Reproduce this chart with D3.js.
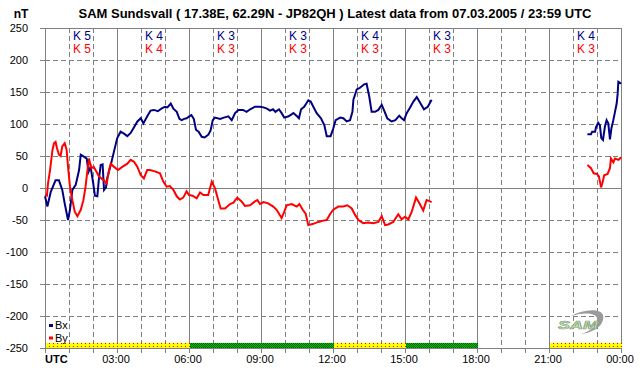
<!DOCTYPE html>
<html>
<head>
<meta charset="utf-8">
<script src="https://cdn.jsdelivr.net/npm/d3@7"></script>
<style>
  body { margin: 0; background: #fff; }
  svg { display: block; font-family: "Liberation Sans", Arial, sans-serif; }
</style>
</head>
<body>
<div id="container-chart"></div>
<script>

// ---- data (hours UTC, nT) ----
var bxHours = [0.0,0.1,0.24,0.44,0.58,0.72,0.82,0.89,0.96,1.04,1.14,1.28,1.42,1.49,1.62,1.74,1.81,1.9,2.01,2.08,2.18,2.24,2.32,2.4,2.46,2.54,2.6,2.74,2.88,3.01,3.15,3.29,3.43,3.57,3.71,3.85,3.99,4.1,4.26,4.4,4.54,4.7,4.85,5.0,5.1,5.24,5.35,5.49,5.6,5.69,5.8,5.9,6.01,6.1,6.2,6.29,6.4,6.53,6.65,6.8,6.9,6.99,7.08,7.3,7.45,7.64,7.78,7.92,8.06,8.25,8.4,8.55,8.75,8.96,9.1,9.25,9.375,9.5,9.6,9.75,9.86,9.97,10.15,10.35,10.5,10.58,10.67,10.8,10.97,11.07,11.18,11.32,11.5,11.64,11.74,11.9,12.01,12.11,12.3,12.43,12.57,12.71,12.81,12.85,12.99,13.1,13.3,13.4,13.51,13.61,13.75,13.89,14.03,14.12,14.26,14.44,14.6,14.76,14.86,14.96,15.07,15.2,15.35,15.49,15.6,15.79,15.95,16.11,
  null,
  22.6,22.75,22.8,22.92,22.96,23.05,23.12,23.18,23.25,23.33,23.4,23.47,23.54,23.6,23.68,23.75,23.82,23.86,23.89,24.0];
var bxValues = [-13,-29,-6,12,12,-3,-24,-37,-50,-34,-3,5,28,52,49,46,25,33,7,-12,-13,12,36,37,-3,1,17,36,58,78,88,85,81,86,95,104,109,101,112,121,122,120,124,127,126,132,124,119,108,106,108,109,112,114,108,91,88,80,79,83,90,106,110,108,110,112,106,117,122,122,119,123,127,127,126,124,121,123,119,123,117,110,112,117,112,109,123,127,137,135,127,117,109,98,81,81,93,106,110,109,104,106,119,138,154,156,162,163,143,119,119,122,130,122,109,104,106,113,109,106,117,125,135,142,135,123,127,138,
  null,
  84,84,88,88,95,102,98,78,75,96,106,101,76,93,106,119,132,147,166,163];

var byHours = [0.0,0.08,0.125,0.21,0.31,0.375,0.44,0.5,0.58,0.65,0.72,0.82,0.9,0.96,1.04,1.14,1.24,1.35,1.49,1.6,1.69,1.76,1.83,1.93,2.03,2.15,2.25,2.35,2.46,2.57,2.67,2.74,2.88,3.04,3.22,3.43,3.57,3.71,3.85,3.99,4.12,4.26,4.375,4.58,4.79,4.93,5.07,5.2,5.35,5.49,5.62,5.76,5.9,6.0,6.15,6.32,6.46,6.6,6.8,6.95,7.08,7.22,7.32,7.5,7.71,7.85,8.01,8.19,8.33,8.54,8.75,8.85,8.96,9.1,9.3,9.51,9.65,9.86,9.97,10.07,10.28,10.49,10.6,10.74,10.86,10.97,11.18,11.39,11.6,11.74,11.875,12.01,12.22,12.43,12.6,12.78,12.92,13.06,13.26,13.47,13.68,13.89,14.03,14.17,14.3,14.51,14.72,14.86,15.0,15.14,15.28,15.46,15.6,15.76,15.9,16.04,16.11,
  null,
  22.6,22.75,22.86,23.0,23.08,23.17,23.22,23.3,23.44,23.54,23.58,23.68,23.75,23.9,24.0];
var byValues = [-11,-12,7,28,59,70,72,62,52,50,65,70,60,33,2,-19,-37,-44,-34,-19,2,25,46,31,33,25,18,15,12,7,28,38,33,28,33,38,44,41,33,20,15,28,28,26,23,10,2,3,-3,-13,-18,-15,-5,-11,-12,-16,-7,-11,-11,10,0,-19,-32,-32,-25,-23,-15,-21,-28,-27,-21,-19,-25,-22,-24,-29,-34,-47,-37,-27,-25,-29,-25,-34,-40,-58,-56,-53,-51,-50,-41,-34,-29,-29,-27,-32,-42,-50,-55,-54,-55,-53,-44,-58,-57,-53,-41,-49,-45,-49,-37,-15,-24,-35,-19,-21,-22,
  null,
  36,31,23,22,18,1,7,20,22,31,46,40,46,44,48];

// K index per 3 hour block (null = no data)
var kBlockStart = [0, 3, 6, 9, 12, 15, 18, 21];
var kBx = [5, 4, 3, 3, 4, 3, null, 4];
var kBy = [5, 4, 3, 3, 3, 3, null, 3];

var yTicks = [250, 200, 150, 100, 50, 0, -50, -100, -150, -200, -250];
var xTickLabels = ["UTC", "03:00", "06:00", "09:00", "12:00", "15:00", "18:00", "21:00", "00:00"];

var titleText = "SAM Sundsvall ( 17.38E, 62.29N - JP82QH ) Latest data from 07.03.2005 / 23:59 UTC";

var bxColor = "#000080";
var byColor = "#ff0000";
var gridColor = "#808080";

// ---- chart ----
var width = 642, height = 376;

var svg = d3.select("#container-chart")
            .append("svg")
            .attr("width", width)
            .attr("height", height);

var x = d3.scaleLinear().domain([0, 24]).range([45, 621]);
var y = d3.scaleLinear().domain([-250, 250]).range([348, 28]);

// patterns for the activity bar
var defs = svg.append("defs");

var pYellow = defs.append("pattern")
  .attr("id", "pat-yellow")
  .attr("patternUnits", "userSpaceOnUse")
  .attr("width", 4)
  .attr("height", 3);
pYellow.append("rect").attr("width", 4).attr("height", 3).style("fill", "#ffff00");
pYellow.append("rect").attr("x", 1).attr("y", 1).attr("width", 1).attr("height", 1).style("fill", "#ff0000");

var pGreen = defs.append("pattern")
  .attr("id", "pat-green")
  .attr("patternUnits", "userSpaceOnUse")
  .attr("width", 2)
  .attr("height", 2);
pGreen.append("rect").attr("width", 2).attr("height", 2).style("fill", "#00c000");
pGreen.append("rect").attr("width", 1).attr("height", 1).style("fill", "#006000");
pGreen.append("rect").attr("x", 1).attr("y", 1).attr("width", 1).attr("height", 1).style("fill", "#006000");

// title
svg.append("text")
  .attr("x", 335)
  .attr("y", 18)
  .attr("text-anchor", "middle")
  .attr("font-size", "13px")
  .attr("font-weight", "bold")
  .style("fill", "#000")
  .text(titleText);

svg.append("text")
  .attr("x", 21)
  .attr("y", 18)
  .attr("text-anchor", "middle")
  .attr("font-size", "12px")
  .attr("font-weight", "bold")
  .text("nT");

// horizontal grid
var grid = svg.append("g");

grid.selectAll("line.h")
  .data(yTicks)
  .enter()
  .append("line")
  .attr("class", "h")
  .attr("x1", x(0))
  .attr("x2", x(24) + 1)
  .attr("y1", function(d){ return Math.round(y(d)) + 0.5; })
  .attr("y2", function(d){ return Math.round(y(d)) + 0.5; })
  .style("stroke", gridColor)
  .style("stroke-dasharray", function(d){
    if(d == 0 || Math.abs(d) == 250){
      return null;
    }
    return "5,3";
  });

// left ticks
grid.selectAll("line.yt")
  .data(yTicks)
  .enter()
  .append("line")
  .attr("class", "yt")
  .attr("x1", x(0) - 5)
  .attr("x2", x(0))
  .attr("y1", function(d){ return Math.round(y(d)) + 0.5; })
  .attr("y2", function(d){ return Math.round(y(d)) + 0.5; })
  .style("stroke", gridColor);

// vertical grid, every hour, solid every 3 hours
grid.selectAll("line.v")
  .data(d3.range(0, 25))
  .enter()
  .append("line")
  .attr("class", "v")
  .attr("x1", function(d){ return Math.round(x(d)) + 0.5; })
  .attr("x2", function(d){ return Math.round(x(d)) + 0.5; })
  .attr("y1", y(250))
  .attr("y2", y(-250) + 5)
  .style("stroke", gridColor)
  .style("stroke-dasharray", function(d){
    if(d % 3 == 0){
      return null;
    }
    return "5,3";
  });

// bottom hour ticks
grid.selectAll("line.xt")
  .data(d3.range(0, 25))
  .enter()
  .append("line")
  .attr("class", "xt")
  .attr("x1", function(d){ return Math.round(x(d)) + 0.5; })
  .attr("x2", function(d){ return Math.round(x(d)) + 0.5; })
  .attr("y1", y(-250))
  .attr("y2", y(-250) + 5)
  .style("stroke", gridColor);

// y labels
svg.selectAll("text.ylab")
  .data(yTicks)
  .enter()
  .append("text")
  .attr("class", "ylab")
  .attr("x", 28)
  .attr("y", function(d){ return y(d) + 4; })
  .attr("text-anchor", "end")
  .attr("font-size", "11px")
  .style("fill", "#000")
  .text(function(d){ return d; });

// x labels
svg.selectAll("text.xlab")
  .data(xTickLabels)
  .enter()
  .append("text")
  .attr("class", "xlab")
  .attr("x", function(d,i){
    if(i == 0){
      return x(0);
    }
    return x(i*3) - 1;
  })
  .attr("y", 363)
  .attr("text-anchor", function(d,i){
    if(i == 0){
      return "start";
    }
    return "middle";
  })
  .attr("font-size", "11px")
  .attr("font-weight", function(d,i){
    if(i == 0){
      return "bold";
    }
    return "normal";
  })
  .style("fill", "#000")
  .text(function(d){ return d; });

// activity bar at the bottom, coloured from the Bx K index
svg.selectAll("rect.kbar")
  .data(kBlockStart.filter(function(d,i){ return kBx[i] != null; }))
  .enter()
  .append("rect")
  .attr("class", "kbar")
  .attr("x", function(d){ return x(d) + 1; })
  .attr("y", y(-250) - 5)
  .attr("width", function(d){ return x(d + 3) - x(d); })
  .attr("height", 5)
  .style("fill", function(d){
    var k = kBx[kBlockStart.indexOf(d)];
    if(k >= 4){
      return "url(#pat-yellow)";
    }
    return "url(#pat-green)";
  });

// K labels
svg.selectAll("text.kbx")
  .data(kBlockStart)
  .enter()
  .append("text")
  .attr("class", "kbx")
  .attr("x", function(d){ return x(d + 1.5) + 1; })
  .attr("y", 40)
  .attr("text-anchor", "middle")
  .attr("font-size", "12px")
  .style("fill", bxColor)
  .text(function(d,i){
    if(kBx[i] != null){
      return "K " + kBx[i];
    }
  });

svg.selectAll("text.kby")
  .data(kBlockStart)
  .enter()
  .append("text")
  .attr("class", "kby")
  .attr("x", function(d){ return x(d + 1.5) + 1; })
  .attr("y", 53)
  .attr("text-anchor", "middle")
  .attr("font-size", "12px")
  .style("fill", byColor)
  .text(function(d,i){
    if(kBy[i] != null){
      return "K " + kBy[i];
    }
  });

// series
function seriesLine(hours, values){
  return d3.line()
    .defined(function(d){ return d != null; })
    .x(function(d){ return x(hours[d]); })
    .y(function(d){ return y(values[d]); })
    (hours.map(function(h,i){ return h == null ? null : i; }));
}

svg.append("path")
  .attr("d", seriesLine(bxHours, bxValues))
  .style("fill", "none")
  .style("stroke", bxColor)
  .style("stroke-width", 2)
  .style("stroke-linejoin", "miter");

svg.append("path")
  .attr("d", seriesLine(byHours, byValues))
  .style("fill", "none")
  .style("stroke", byColor)
  .style("stroke-width", 2)
  .style("stroke-linejoin", "miter");

// legend
var legend = svg.append("g");
var legendItems = [["Bx", bxColor], ["By", byColor]];

legend.selectAll("rect")
  .data(legendItems)
  .enter()
  .append("rect")
  .attr("x", 49)
  .attr("y", function(d,i){ return 324 + 12.5*i; })
  .attr("width", 4)
  .attr("height", 3)
  .style("fill", function(d){ return d[1]; });

legend.selectAll("text")
  .data(legendItems)
  .enter()
  .append("text")
  .attr("x", 55)
  .attr("y", function(d,i){ return 329 + 12.5*i; })
  .attr("font-size", "11px")
  .style("fill", "#000")
  .text(function(d){ return d[0]; });

// SAM logo
var logo = svg.append("g").attr("transform", "translate(557,310)");

logo.append("path")
  .attr("d", "M14,6 C26,-1 44,-2 46,5 C48,13 40,22 24,24 C36,20 42,14 40,8 C38,3 28,2 14,6 Z")
  .style("fill", "#9a9a9a");

logo.append("text")
  .attr("x", 1)
  .attr("y", 19)
  .attr("font-size", "11px")
  .attr("font-style", "italic")
  .attr("font-weight", "bold")
  .attr("textLength", 40)
  .attr("lengthAdjust", "spacingAndGlyphs")
  .style("fill", "#c8e6b0")
  .style("stroke", "#7fa07f")
  .style("stroke-width", 0.6)
  .text("SAM");

</script>
</body>
</html>
